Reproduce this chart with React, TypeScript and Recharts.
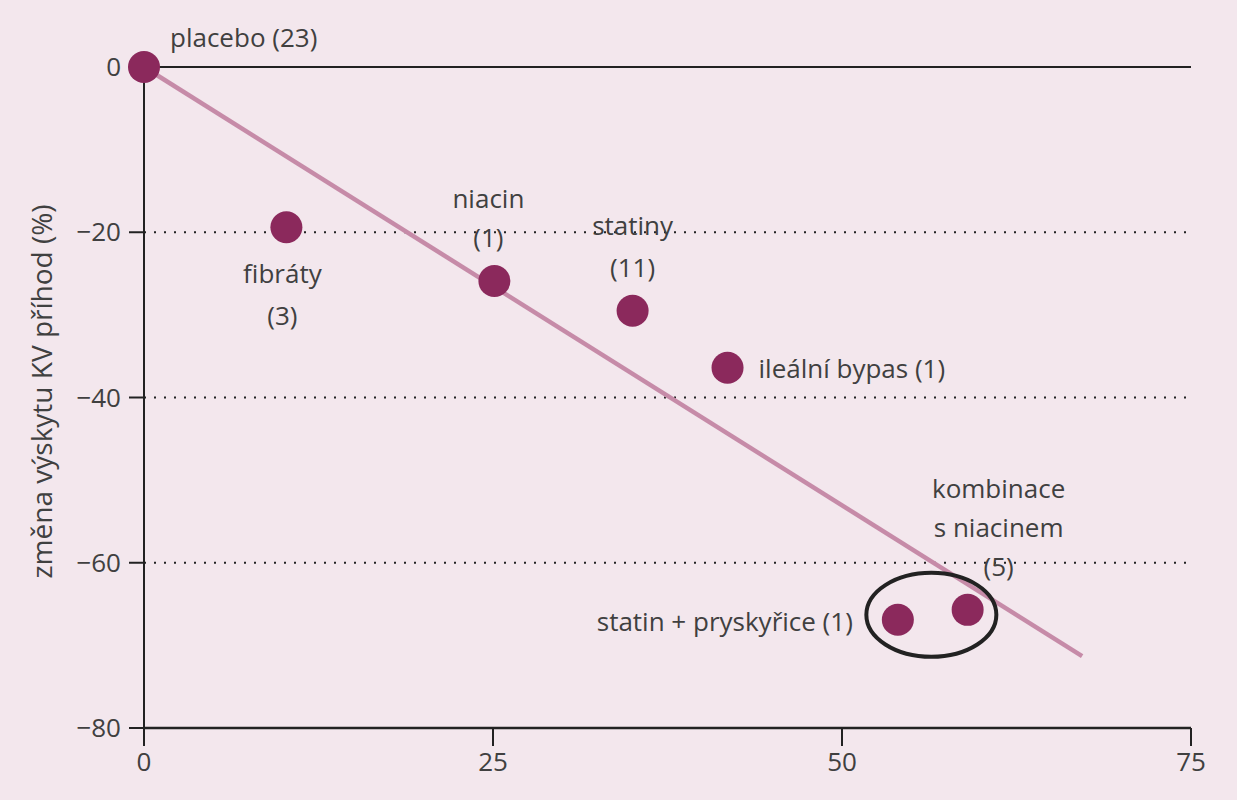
import React from 'react';
import {
  ComposedChart, Scatter, XAxis, YAxis, ReferenceLine, ReferenceDot,
} from 'recharts';

// studies: reduction in LDL (x) vs change in CV events (y)
const names = ['placebo', 'fibráty', 'niacin', 'statiny', 'ileální bypas', 'statin + pryskyřice', 'kombinace s niacinem'];
const studyCounts = [23, 3, 1, 11, 1, 1, 5];
const xValues = [0, 10.2, 25.1, 35.0, 41.8, 54.0, 59.0];
const yValues = [0, -19.4, -25.9, -29.5, -36.4, -66.9, -65.7];

const fitX = [0, 67.2];
const fitY = [0, -71.3];

const xTicks = [0, 25, 50, 75];
const yTicks = [0, -20, -40, -60, -80];
const dottedLevels = [-20, -40, -60];
const circled = { x: 56.4, y: -66.3 };

const BG = '#f3e7ed';
const DOT = '#8b295c';
const FIT = '#c68ba8';
const INK = '#222';
const TEXT = '#404040';
const FONT = '"Open Sans", sans-serif';
const FS = 26;

// label layout per point (pixels relative to the dot)
const labelLayout: { dx: number; dys: number[]; anchor: 'start' | 'middle' | 'end'; lines: (i: number) => string[] }[] = [
  { dx: 26, dys: [-30], anchor: 'start', lines: (i) => [`${names[i]} (${studyCounts[i]})`] },
  { dx: -4, dys: [46, 88], anchor: 'middle', lines: (i) => [names[i], `(${studyCounts[i]})`] },
  { dx: -6, dys: [-83, -44], anchor: 'middle', lines: (i) => [names[i], `(${studyCounts[i]})`] },
  { dx: 0, dys: [-86, -44], anchor: 'middle', lines: (i) => [names[i], `(${studyCounts[i]})`] },
  { dx: 31, dys: [0], anchor: 'start', lines: (i) => [`${names[i]} (${studyCounts[i]})`] },
  { dx: -45, dys: [1], anchor: 'end', lines: (i) => [`${names[i]} (${studyCounts[i]})`] },
  { dx: 31, dys: [-122, -83, -44], anchor: 'middle', lines: () => ['kombinace', 's niacinem', `(${studyCounts[6]})`] },
];

const points = names.map((n, i) => ({ x: xValues[i], y: yValues[i], idx: i }));
const fitLine = fitX.map((x, i) => ({ x, y: fitY[i] }));

const fmtY = (v: number) => (v < 0 ? `\u2212${Math.abs(v)}` : `${v}`);

const StudyDot = (props: any) => {
  const { cx, cy, payload } = props;
  const lay = labelLayout[payload.idx];
  const lines = lay.lines(payload.idx);
  return (
    <g>
      <circle cx={cx} cy={cy} r={16} fill={DOT} />
      {lines.map((t, k) => (
        <text
          key={k}
          x={cx + lay.dx}
          y={cy + lay.dys[k]}
          textAnchor={lay.anchor}
          dominantBaseline="central"
          fontSize={FS}
          fontFamily={FONT}
          fill={TEXT}
        >
          {t}
        </text>
      ))}
    </g>
  );
};

export default function App() {
  return (
    <div style={{ position: 'absolute', left: 0, top: 0, width: 1237, height: 800, background: BG }}>
      <ComposedChart
        width={1237}
        height={800}
        margin={{ top: 67, right: 46, bottom: 0, left: 64 }}
        style={{ fontFamily: FONT, overflow: 'visible' }}
      >
        <XAxis
          type="number"
          dataKey="x"
          domain={[0, 75]}
          ticks={xTicks}
          height={72}
          tickSize={18}
          tickMargin={7}
          axisLine={{ stroke: INK, strokeWidth: 2.5 }}
          tickLine={{ stroke: INK, strokeWidth: 2 }}
          tick={{ fill: TEXT, fontSize: 26, fontFamily: FONT }}
        />
        <YAxis
          type="number"
          dataKey="y"
          domain={[-80, 0]}
          ticks={yTicks}
          width={80}
          tickSize={15}
          tickMargin={8}
          tickFormatter={fmtY}
          axisLine={{ stroke: INK, strokeWidth: 2 }}
          tickLine={{ stroke: INK, strokeWidth: 2 }}
          tick={{ fill: TEXT, fontSize: 26, fontFamily: FONT }}
          label={{
            value: 'změna výskytu KV příhod (%)',
            angle: -90,
            position: 'insideLeft',
            dx: -27,
            dy: 181,
            fill: TEXT,
            fontSize: 28,
            fontFamily: FONT,
          }}
        />
        <ReferenceLine y={0} stroke={INK} strokeWidth={2} />
        {dottedLevels.map((v) => (
          <ReferenceLine key={v} y={v} stroke={INK} strokeWidth={2} strokeDasharray="2 8" />
        ))}
        <Scatter
          data={fitLine}
          line={{ stroke: FIT, strokeWidth: 4.5 }}
          lineType="joint"
          shape={() => null}
          isAnimationActive={false}
        />
        <ReferenceDot
          x={circled.x}
          y={circled.y}
          shape={(p: any) => (
            <ellipse cx={p.cx} cy={p.cy} rx={65} ry={42} fill="none" stroke={INK} strokeWidth={4} />
          )}
        />
        <Scatter data={points} shape={StudyDot} isAnimationActive={false} />
      </ComposedChart>
    </div>
  );
}
